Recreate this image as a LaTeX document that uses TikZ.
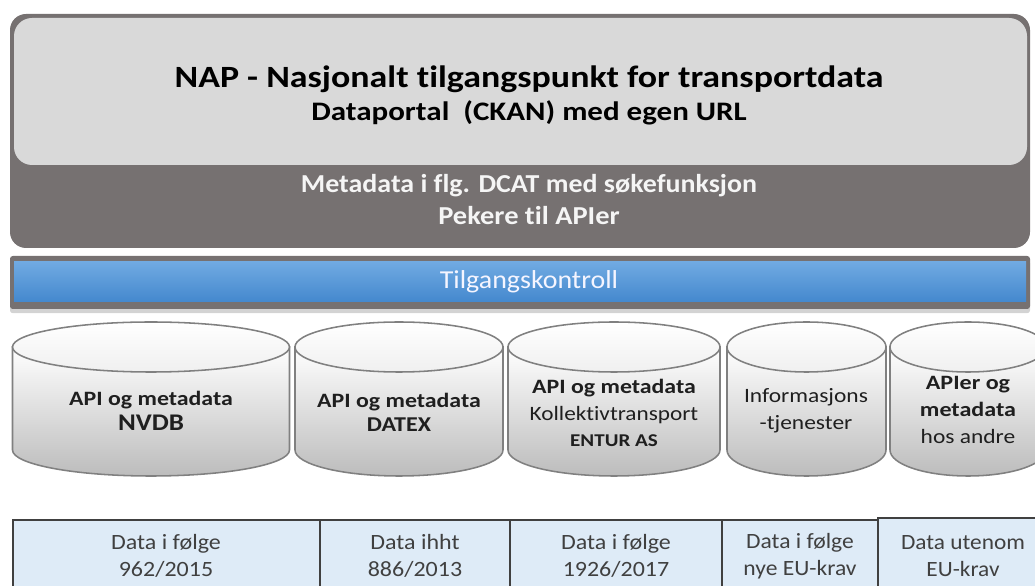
\documentclass[tikz,border=0pt]{standalone}
\usepackage{fontspec}
\setmainfont{Carlito}[Ligatures=CommonOff]
\usetikzlibrary{shadows}
\definecolor{napgray}{RGB}{217,217,217}
\definecolor{bandgray}{RGB}{118,113,113}
\definecolor{bartop}{RGB}{112,170,226}
\definecolor{barbot}{RGB}{68,136,206}
\definecolor{cylline}{RGB}{128,128,128}
\definecolor{cylgray}{RGB}{188,188,188}
\definecolor{cellblue}{RGB}{222,235,247}
\definecolor{celltext}{RGB}{64,64,64}

% horizontal stretch of one line
\newcommand{\sx}[2]{\scalebox{#1}[1]{#2}}

% database drum between two x positions (pixel units)
\newcommand{\dbdrum}[2]{%
  \pgfmathsetmacro\drumcx{(#1+#2)/2}\pgfmathsetmacro\drumrx{(#2-#1)/2}
  \shade[top color=white, bottom color=cylgray, draw=cylline, line width=1.1pt]
    (#1,239) -- (#1,136) arc[start angle=180, end angle=360, x radius=\drumrx, y radius=26]
    -- (#2,239) -- cycle;
  \shade[top color=white, bottom color=black!6, draw=cylline, line width=1.1pt]
    (\drumcx,239) ellipse[x radius=\drumrx, y radius=25];
}

\begin{document}
\begin{tikzpicture}[x=0.025cm, y=0.025cm,
      head/.style={font=\fontsize{22}{26}\selectfont\bfseries, text=black},
      sub/.style={font=\fontsize{19}{22}\selectfont\bfseries, text=black},
      band/.style={font=\fontsize{18.4}{22}\selectfont\bfseries, text=black!4},
      drumtxt/.style={align=center, text=black!88, font=\fontsize{14.5}{19}\selectfont},
      celltxt/.style={align=center, text=celltext, font=\fontsize{15.5}{19}\selectfont},
      cellbox/.style={draw=black!75, line width=0.9pt, fill=cellblue}]

    \useasboundingbox (0,0) rectangle (1035,586);
    \clip (0,0) rectangle (1035,586);

    % portal and metadata band
    \fill[bandgray, rounded corners=0.4cm] (10,338) rectangle (1030,572);
    \fill[napgray, rounded corners=0.45cm] (14,421) rectangle (1027,568);
    \node[head] (nap)  at (529,507) {\sx{1.16}{NAP - Nasjonalt tilgangspunkt for transportdata}};
    \node[sub]  (ckan) at (529,473) {\sx{1.16}{Dataportal\ \ (CKAN) med egen URL}};
    \node[band] (dcat) at (529,400) {\sx{1.08}{Metadata i flg. DCAT med søkefunksjon}};
    \node[band] (peke) at (529,370) {\sx{1.1}{Pekere til APIer}};

    % access control
    \fill[bandgray, rounded corners=2pt, drop shadow={opacity=0.35, shadow xshift=0pt, shadow yshift=-3pt}]
      (10,277) rectangle (1030,330);
    \shade[top color=bartop, bottom color=barbot] (14,284) rectangle (1026,324);
    \node[font=\fontsize{18.4}{22}\selectfont, text=blue!4] (tilg) at (529,304) {\sx{1.08}{Tilgangskontroll}};

    % databases
    \dbdrum{12.5}{289.5}
    \dbdrum{295}{503}
    \dbdrum{508}{720}
    \dbdrum{727}{886}
    \dbdrum{890}{1046}
    \node[drumtxt] (nvdb) at (151,175) {\sx{1.17}{\textbf{API og metadata}}\\[-1pt]\sx{1.13}{\fontsize{17}{19}\selectfont\bfseries NVDB}};
    \node[drumtxt] (datex) at (399,174) {\sx{1.17}{\textbf{API og metadata}}\\[-2pt]\sx{1.14}{\fontsize{15}{19}\selectfont\bfseries DATEX}};
    \node[drumtxt] (entur) at (614,173) {\sx{1.17}{\textbf{API og metadata}}\\\sx{1.14}{Kollektivtransport}\\\sx{1.17}{\fontsize{12.8}{15}\selectfont\bfseries ENTUR AS}};
    \node[drumtxt] (info) at (806,175) {\sx{1.15}{Informasjons}\\\sx{1.15}{-tjenester}};
    \node[drumtxt] (andre) at (968,176) {\sx{1.18}{\textbf{APIer og}}\\\sx{1.18}{\textbf{metadata}}\\\sx{1.15}{hos andre}};

    % legal basis
    \draw[cellbox] (13,-10) rectangle (320,66);
    \draw[cellbox] (320,-10) rectangle (510,66);
    \draw[cellbox] (510,-10) rectangle (722,66);
    \draw[cellbox] (722,-10) rectangle (878,66);
    \draw[cellbox] (878,-10) rectangle (1050,68);
    \node[celltxt] (r962) at (166,30) {\sx{1.1}{Data i følge}\\\sx{1.1}{962/2015}};
    \node[celltxt] (r886) at (415,30) {\sx{1.1}{Data ihht}\\\sx{1.1}{886/2013}};
    \node[celltxt] (r1926) at (616,30) {\sx{1.1}{Data i følge}\\\sx{1.1}{1926/2017}};
    \node[celltxt] (rnye) at (800,30) {\sx{1.08}{Data i følge}\\\sx{1.08}{nye EU-krav}};
    \node[celltxt] (rutenom) at (963,30) {\sx{1.07}{Data utenom}\\\sx{1.07}{EU-krav}};
  \end{tikzpicture}
\end{document}
